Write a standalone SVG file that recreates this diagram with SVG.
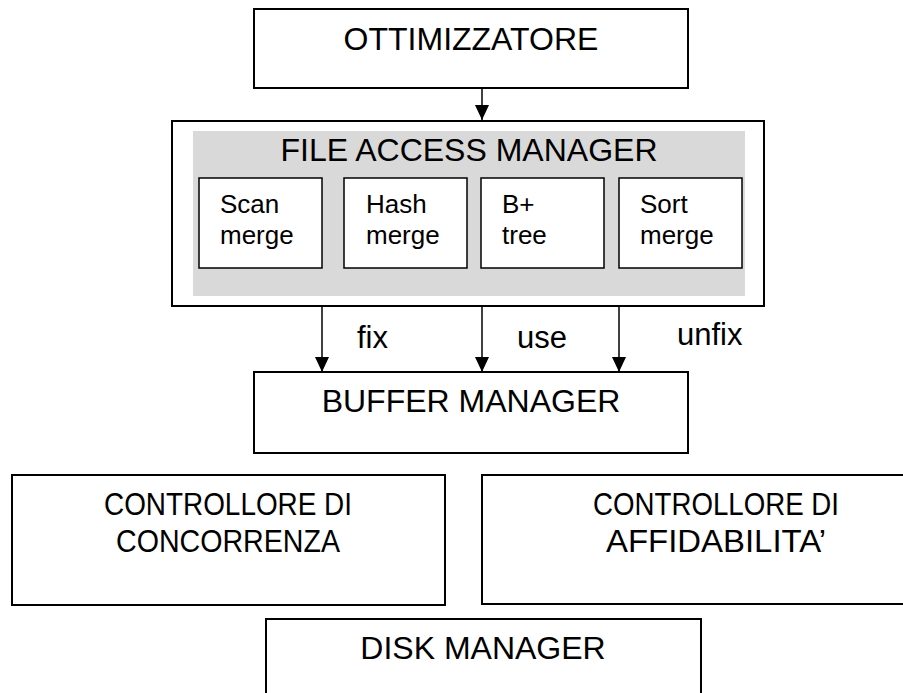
<svg xmlns="http://www.w3.org/2000/svg" width="903" height="693" viewBox="0 0 903 693">
  <defs>
    <marker id="arrow" viewBox="0 0 15 14" refX="15" refY="7" markerWidth="15" markerHeight="14" markerUnits="userSpaceOnUse" orient="auto">
      <path d="M0,0 L15,7 L0,14 z" fill="#000"/>
    </marker>
    <style>
      .box { fill: #fff; stroke: #000; stroke-width: 2; }
      .gray { fill: #d9d9d9; stroke: none; }
      .sub { fill: #fff; stroke: #000; stroke-width: 1.5; }
      .conn { stroke: #000; stroke-width: 1.5; fill: none; marker-end: url(#arrow); }
      text { font-family: "Liberation Sans", Arial, sans-serif; fill: #000; }
      .big { font-size: 32px; text-anchor: middle; }
      .small { font-size: 26px; }
      .lbl { font-size: 31px; }
    </style>
  </defs>

  <g id="ottimizzatore">
    <rect class="box" x="254" y="9" width="434" height="79"/>
    <text class="big" x="471" y="50">OTTIMIZZATORE</text>
  </g>

  <g id="file-access-manager">
    <rect class="box" x="172" y="121" width="592" height="185"/>
    <rect class="gray" x="193" y="131" width="552" height="165"/>
    <text class="big" x="469" y="161">FILE ACCESS MANAGER</text>
    <g id="scan-merge">
      <rect class="sub" x="199" y="178" width="123" height="90"/>
      <text class="small" x="220" y="213">Scan</text>
      <text class="small" x="220" y="244">merge</text>
    </g>
    <g id="hash-merge">
      <rect class="sub" x="344" y="178" width="123" height="90"/>
      <text class="small" x="366" y="213">Hash</text>
      <text class="small" x="366" y="244">merge</text>
    </g>
    <g id="bplus-tree">
      <rect class="sub" x="481" y="178" width="123" height="90"/>
      <text class="small" x="502" y="213">B+</text>
      <text class="small" x="502" y="244">tree</text>
    </g>
    <g id="sort-merge">
      <rect class="sub" x="619" y="178" width="123" height="90"/>
      <text class="small" x="640" y="213">Sort</text>
      <text class="small" x="640" y="244">merge</text>
    </g>
  </g>

  <g id="buffer-manager">
    <rect class="box" x="254" y="372" width="434" height="81"/>
    <text class="big" x="471" y="412">BUFFER MANAGER</text>
  </g>

  <g id="controllore-concorrenza">
    <rect class="box" x="12" y="475" width="433" height="130"/>
    <text class="big" x="228" y="515" textLength="248" lengthAdjust="spacingAndGlyphs">CONTROLLORE DI</text>
    <text class="big" x="228" y="552" textLength="224" lengthAdjust="spacingAndGlyphs">CONCORRENZA</text>
  </g>

  <g id="controllore-affidabilita">
    <rect class="box" x="482" y="475" width="440" height="129"/>
    <text class="big" x="716" y="515" textLength="246" lengthAdjust="spacingAndGlyphs">CONTROLLORE DI</text>
    <text class="big" x="716" y="552" textLength="220" lengthAdjust="spacingAndGlyphs">AFFIDABILITA’</text>
  </g>

  <g id="disk-manager">
    <rect class="box" x="266" y="619" width="435" height="90"/>
    <text class="big" x="483" y="659">DISK MANAGER</text>
  </g>

  <g id="connectors">
    <line class="conn" x1="482" y1="88" x2="482" y2="120"/>
    <line class="conn" x1="322" y1="306" x2="322" y2="372"/>
    <line class="conn" x1="482" y1="306" x2="482" y2="372"/>
    <line class="conn" x1="619" y1="306" x2="619" y2="372"/>
    <text class="lbl" x="357" y="348">fix</text>
    <text class="lbl" x="517" y="348">use</text>
    <text class="lbl" x="677" y="345">unfix</text>
  </g>
</svg>
